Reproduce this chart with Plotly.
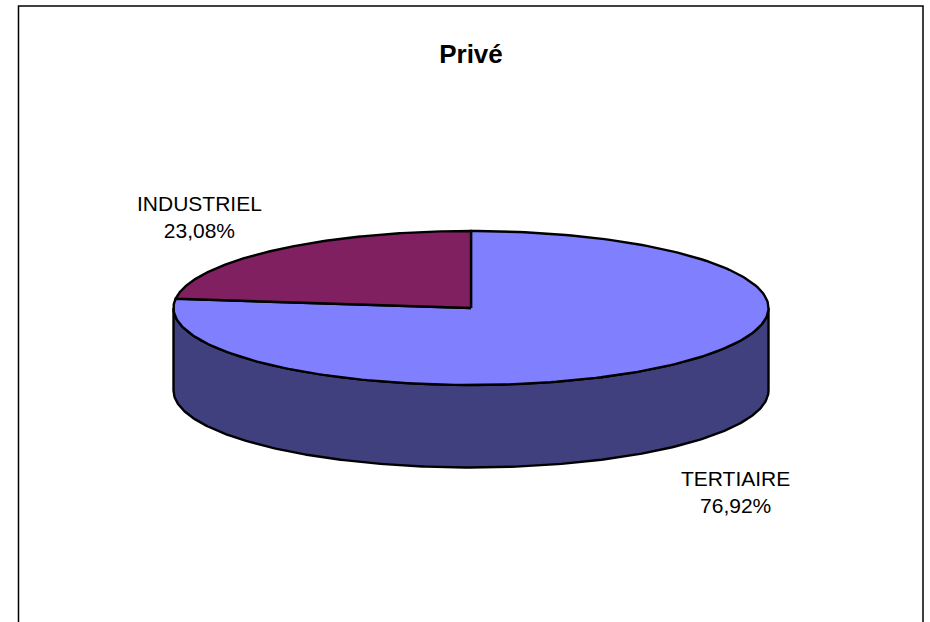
import numpy as np
import plotly.graph_objects as go

# ---- data ----
TITLE = "Privé"
categories = ["TERTIAIRE", "INDUSTRIEL"]
shares = [76.92, 23.08]
slice_colors = ["#8080FF", "#802060"]
side_color = "#40407F"

# ---- projection of the tilted disc (unit radius = half the pie width) ----
W, H = 930, 622
CX_PX, CY_PX, R_PX = 471.0, 308.0, 297.5
TILT = 77.0 / R_PX
DEPTH = 82.5 / R_PX
EDGE = 2.4


def px_x(v):
    return (v - CX_PX) / R_PX


def px_y(v):
    return (CY_PX - v) / R_PX


def arc(a0, a1, drop=0.0, n=240):
    """Clockwise angles from 12 o'clock, degrees, to disc coordinates."""
    t = np.radians(np.linspace(a0, a1, n))
    return np.sin(t), TILT * np.cos(t) - drop


fig = go.Figure()

# visible wall: the front half of the rim, extruded downward
xt, yt = arc(90, 270)
xb, yb = arc(270, 90, DEPTH)
fig.add_trace(go.Scatter(
    x=np.r_[xt, xb, xt[0]], y=np.r_[yt, yb, yt[0]],
    mode="lines", fill="toself", fillcolor=side_color,
    line=dict(color="black", width=EDGE), hoverinfo="skip",
))

# top slices, clockwise from 12 o'clock, from the values
start = 0.0
total = sum(shares)
for name, share, color in zip(categories, shares, slice_colors):
    end = start + 360.0 * share / total
    xa, ya = arc(start, end)
    fig.add_trace(go.Scatter(
        x=np.r_[0, xa, 0], y=np.r_[0, ya, 0],
        mode="lines", fill="toself", fillcolor=color,
        line=dict(color="black", width=EDGE),
        name=name, hoverinfo="name",
    ))
    start = end

label_px = {"TERTIAIRE": (735, 491.5), "INDUSTRIEL": (199.5, 216.5)}
annotations = []
for name, share in zip(categories, shares):
    lx, ly = label_px[name]
    annotations.append(dict(
        x=px_x(lx), y=px_y(ly), xref="x", yref="y",
        text=f"{name}<br>{share:.2f}%".replace(".", ","),
        showarrow=False, align="center",
        font=dict(family="Liberation Sans, Arial, sans-serif", size=21, color="black"),
    ))

fig.update_layout(
    width=W, height=H,
    margin=dict(l=0, r=0, t=0, b=0),
    paper_bgcolor="white", plot_bgcolor="white",
    showlegend=False,
    title=dict(
        text=f"<b>{TITLE}</b>", x=471 / W, xanchor="center",
        y=1 - 54 / H, yanchor="middle",
        font=dict(family="Liberation Sans, Arial, sans-serif", size=26, color="black"),
    ),
    xaxis=dict(range=[px_x(0), px_x(W)], visible=False, fixedrange=True),
    yaxis=dict(range=[px_y(H), px_y(0)], visible=False, fixedrange=True),
    annotations=annotations,
    shapes=[dict(
        type="path", xref="paper", yref="paper",
        path=f"M {18.5 / W} 0 L {18.5 / W} {1 - 6 / H} L {923 / W} {1 - 6 / H} L {923 / W} 0",
        line=dict(color="black", width=1.5), fillcolor="rgba(0,0,0,0)",
    )],
)

fig.write_html("out.html", config={"displayModeBar": False},
               post_script="document.body.style.margin='0';")
